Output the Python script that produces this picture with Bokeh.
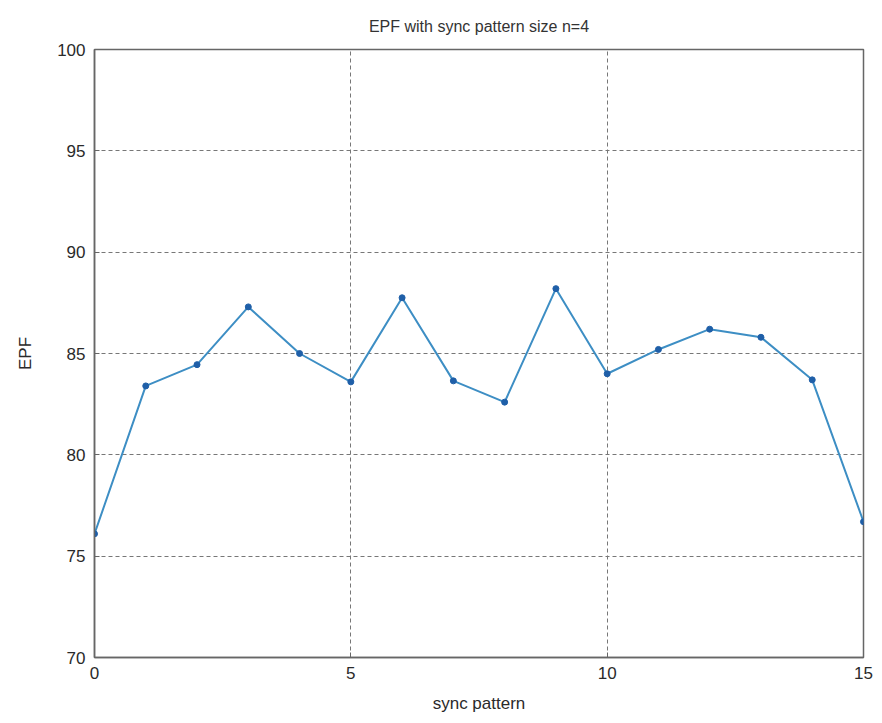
from bokeh.plotting import figure
from bokeh.models import Range1d, FixedTicker
from bokeh.embed import file_html
from bokeh.resources import INLINE

sync_pattern = [0, 1, 2, 3, 4, 5, 6, 7, 8, 9, 10, 11, 12, 13, 14, 15]
epf = [76.1, 83.4, 84.45, 87.3, 85.0, 83.6, 87.75, 83.65, 82.6, 88.2,
       84.0, 85.2, 86.2, 85.8, 83.7, 76.7]
x_ticks = [0, 5, 10, 15]
y_ticks = [70, 75, 80, 85, 90, 95, 100]
title_text = "EPF with sync pattern size n=4"

FONT = "Liberation Sans"

p = figure(width=878, height=715, output_backend="svg", toolbar_location=None,
           x_range=Range1d(0, 15), y_range=Range1d(70, 100),
           min_border_left=94, min_border_right=15, min_border_top=0,
           min_border_bottom=52, title=title_text)

p.title.align = "center"
p.title.text_font = FONT
p.title.text_font_size = "16px"
p.title.text_font_style = "normal"
p.title.text_color = "#333333"
p.title.standoff = 30
p.title.padding = 0
p.title.vertical_align = "bottom"
p.title.text_baseline = "top"

p.background_fill_color = "white"
p.border_fill_color = "white"
p.outline_line_color = "#666666"
p.outline_line_width = 1.5

for ax in (p.xaxis[0], p.yaxis[0]):
    ax.axis_line_color = "#666666"
    ax.axis_line_width = 1.5
    ax.major_tick_in = 5
    ax.major_tick_out = 0
    ax.major_tick_line_color = "#666666"
    ax.minor_tick_line_color = None
    ax.major_label_text_font = FONT
    ax.major_label_text_font_size = "17px"
    ax.major_label_text_color = "#2a2a2a"
    ax.axis_label_text_font = FONT
    ax.axis_label_text_font_size = "17px"
    ax.axis_label_text_font_style = "normal"
    ax.axis_label_text_color = "#2a2a2a"

p.xaxis.ticker = FixedTicker(ticks=x_ticks)
p.yaxis.ticker = FixedTicker(ticks=y_ticks)
p.xaxis.axis_label = "sync pattern"
p.yaxis.axis_label = "EPF"
p.xaxis.major_label_standoff = 9
p.yaxis.major_label_standoff = 9
p.xaxis.axis_label_standoff = 12
p.yaxis.axis_label_standoff = 19

for g in (p.xgrid[0], p.ygrid[0]):
    g.grid_line_color = "#777777"
    g.grid_line_dash = "4 3"
    g.grid_line_width = 1

p.line(sync_pattern, epf, line_color="#3d8ec4", line_width=2)
p.scatter(sync_pattern, epf, size=6, fill_color="#1f5fa8", line_color="#1f5fa8")

open("out.html", "w").write(file_html(p, INLINE))
